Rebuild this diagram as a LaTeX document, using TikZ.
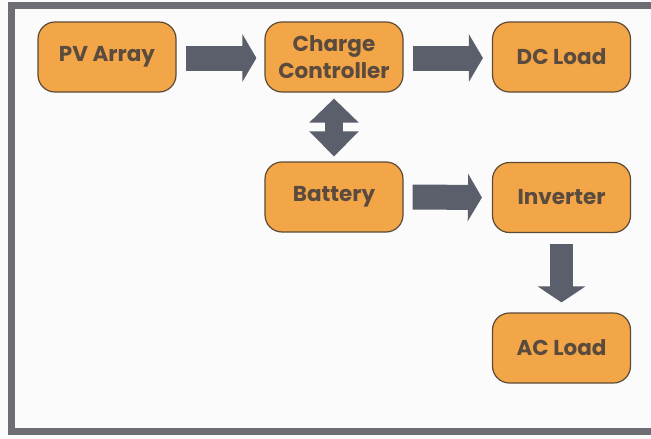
\documentclass[tikz,border=0pt]{standalone}
\usepackage{fontspec}
\setmainfont{Poppins}
\usetikzlibrary{arrows.meta,calc}
\definecolor{boxfill}{HTML}{F2A647}
\definecolor{boxline}{HTML}{5C4A36}
\definecolor{txt}{HTML}{5A4B3E}
\definecolor{arr}{HTML}{5B5E6B}
\definecolor{frame}{HTML}{6D6E74}
\begin{document}
\begin{tikzpicture}[x=1pt,y=-1pt,
  blk/.style={draw=boxline, line width=1.2pt, fill=boxfill, rounded corners=17pt,
    minimum width=138pt, minimum height=70pt, align=center, text=txt,
    font=\bfseries\fontsize{21.5}{22}\selectfont, inner sep=0pt},
  harr/.style={draw=arr, line width=25pt, -{Triangle[width=47pt,length=14pt]}},
  varr/.style={draw=arr, line width=23pt, -{Triangle[width=47pt,length=16pt]}},
  darr/.style={draw=arr, line width=18pt, {Triangle[width=48pt,length=24pt]}-{Triangle[width=48pt,length=25pt]}}]
\useasboundingbox (0,0) rectangle (651,439);
\fill[white!97!gray] (0,0) rectangle (651,439);
\draw[frame, line width=7pt] (651,5) -- (11.5,5) -- (11.5,431) -- (651,431);
\node[blk] (pv) at (107,57) {PV Array};
\node[blk] (cc) at (334,57) {Charge\\[5pt]Controller};
\node[blk] (dc) at (561.5,57) {DC Load};
\node[blk] (bat) at (334,197) {Battery};
\node[blk] (inv) at (561.5,197.5) {Inverter};
\node[blk] (ac) at (561.5,348) {AC Load};
\draw[harr] ($(pv.east)+(9,1)$) -- ($(cc.west)+(-8,1)$);
\draw[harr] ($(cc.east)+(9,1)$) -- ($(dc.west)+(-9,1)$);
\draw[harr] ($(bat.east)+(9,0)$) -- ($(inv.west)+(-10,0)$);
\draw[varr] ($(inv.south)+(0,11)$) -- ($(ac.north)+(0,-10)$);
\draw[darr] ($(cc.south)+(0,6)$) -- ($(bat.north)+(0,-5)$);
\end{tikzpicture}
\end{document}
